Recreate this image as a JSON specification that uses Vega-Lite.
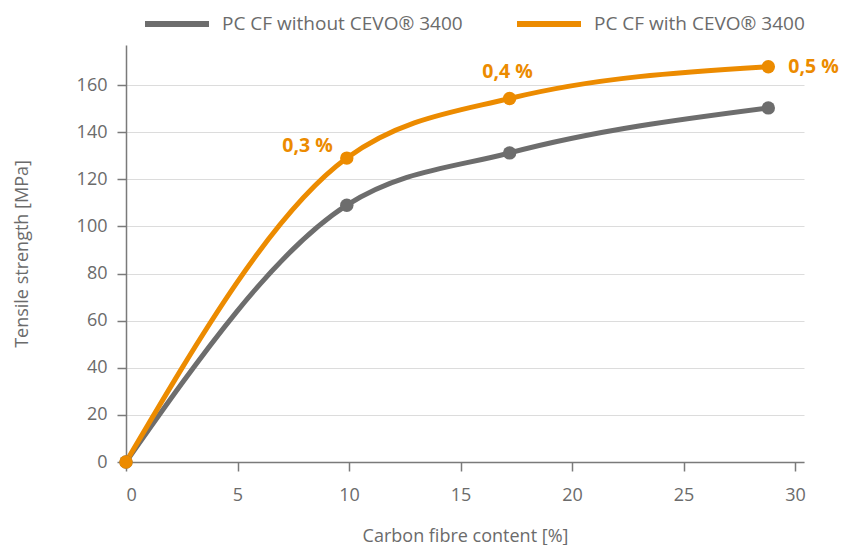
{
  "$schema": "https://vega.github.io/schema/vega-lite/v6.json",
  "width": 678,
  "height": 417,
  "autosize": "none",
  "padding": {"left": 126, "top": 45, "right": 49, "bottom": 83},
  "background": "white",
  "config": {
    "view": {"stroke": null},
    "font": "Open Sans",
    "axis": {
      "domainColor": "#7a7a7a",
      "domainWidth": 1.5,
      "tickColor": "#7a7a7a",
      "tickWidth": 1.5,
      "tickSize": 9,
      "labelColor": "#6b6b6b",
      "labelFontSize": 18,
      "labelFont": "Open Sans",
      "titleColor": "#6b6b6b",
      "titleFontSize": 18,
      "titleFont": "Open Sans",
      "titleFontWeight": "normal",
      "gridColor": "#dcdcdc",
      "gridWidth": 1
    }
  },
  "data": {
    "values": [
      {"series": "PC CF without CEVO® 3400", "x": 0, "y": 0, "label": ""},
      {"series": "PC CF without CEVO® 3400", "x": 9.9, "y": 109, "label": ""},
      {"series": "PC CF without CEVO® 3400", "x": 17.2, "y": 131.2, "label": ""},
      {"series": "PC CF without CEVO® 3400", "x": 28.8, "y": 150.3, "label": ""},
      {"series": "PC CF with CEVO® 3400", "x": 0, "y": 0, "label": ""},
      {"series": "PC CF with CEVO® 3400", "x": 9.9, "y": 129, "label": "0,3 %"},
      {"series": "PC CF with CEVO® 3400", "x": 17.2, "y": 154.3, "label": "0,4 %"},
      {"series": "PC CF with CEVO® 3400", "x": 28.8, "y": 167.8, "label": "0,5 %"}
    ]
  },
  "encoding": {
    "x": {
      "field": "x", "type": "quantitative",
      "scale": {"domain": [0, 30.4], "nice": false, "zero": false},
      "axis": {"values": [0, 5, 10, 15, 20, 25, 30], "grid": false, "title": "Carbon fibre content [%]", "labelPadding": 15, "titlePadding": 23}
    },
    "y": {
      "field": "y", "type": "quantitative",
      "scale": {"domain": [0, 177], "nice": false},
      "axis": {"values": [0, 20, 40, 60, 80, 100, 120, 140, 160], "grid": true, "title": "Tensile strength [MPa]", "labelPadding": 10, "titlePadding": 45}
    },
    "color": {
      "field": "series", "type": "nominal",
      "scale": {"domain": ["PC CF without CEVO® 3400", "PC CF with CEVO® 3400"], "range": ["#6d6d6d", "#ec8b00"]},
      "legend": {
        "title": null,
        "orient": "none",
        "direction": "horizontal",
        "legendX": 16,
        "legendY": -56,
        "symbolType": "stroke",
        "symbolSize": 4096,
        "symbolStrokeWidth": 6,
        "labelFontSize": 19,
        "labelColor": "#6b6b6b",
        "labelFont": "Open Sans",
        "labelOffset": 10,
        "columnPadding": 42,
        "labelLimit": 400
      }
    }
  },
  "layer": [
    {
      "mark": {"type": "line", "interpolate": "monotone", "strokeWidth": 5, "strokeCap": "round"}
    },
    {
      "mark": {"type": "circle", "size": 180, "opacity": 1},
      "encoding": {"color": {"field": "series", "type": "nominal", "legend": null}}
    },
    {
      "transform": [{"filter": "datum.label == '0,3 %'"}],
      "mark": {"type": "text", "align": "right", "baseline": "middle", "dx": -14, "dy": -12, "fontSize": 19.5, "fontWeight": "bold"},
      "encoding": {"text": {"field": "label"}, "color": {"value": "#ec8b00"}}
    },
    {
      "transform": [{"filter": "datum.label == '0,4 %'"}],
      "mark": {"type": "text", "align": "center", "baseline": "middle", "dx": -2, "dy": -26, "fontSize": 19.5, "fontWeight": "bold"},
      "encoding": {"text": {"field": "label"}, "color": {"value": "#ec8b00"}}
    },
    {
      "transform": [{"filter": "datum.label == '0,5 %'"}],
      "mark": {"type": "text", "align": "left", "baseline": "middle", "dx": 20, "dy": 0, "fontSize": 19.5, "fontWeight": "bold"},
      "encoding": {"text": {"field": "label"}, "color": {"value": "#ec8b00"}}
    }
  ]
}
